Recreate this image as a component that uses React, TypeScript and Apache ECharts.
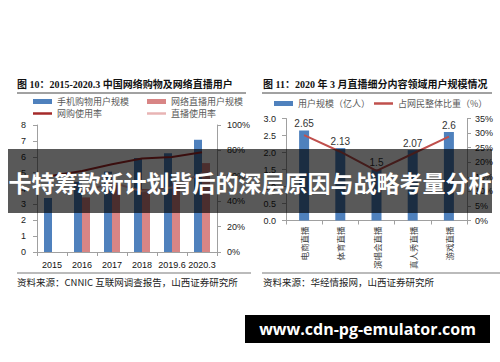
import React, { useEffect, useRef } from 'react';
import * as echarts from 'echarts';

// Left chart data
const leftCats = ['2015', '2016', '2017', '2018', '2019.6', '2020.3'];
const mobileShopUsers = [3.4, 4.41, 5.06, 5.92, 6.22, 7.07];
const liveUsers = [null, 3.44, 4.22, 3.97, 4.33, 5.6];
const shopRate = [60.0, 63.8, 69.1, 73.6, 74.8, 78.6];
const liveRate = [null, 47.1, 54.7, 47.9, 50.7, 62.0];
const leftYTicks = [0, 8, 1];
const leftY2Ticks = [0, 100, 20];

// Right chart data
const rightCats = ['电商直播', '体育直播', '演唱会直播', '真人秀直播', '游戏直播'];
const rightUsers = [2.65, 2.13, 1.5, 2.07, 2.6];
const rightShare = [29.3, 23.6, 17.0, 22.9, 28.8];
const rightYTicks = [0, 3, 0.5];
const rightY2Ticks = [0, 35, 5];

const leftTitle = '图 10：2015-2020.3 中国网络购物及网络直播用户';
const rightTitle = '图 11：2020 年 3 月直播细分内容领域用户规模情况';
const leftSource = '资料来源：CNNIC 互联网调查报告，山西证券研究所';
const rightSource = '资料来源：华经情报网，山西证券研究所';
const overlayTitle = '卡特筹款新计划背后的深层原因与战略考量分析';
const bannerText = 'www.cdn-pg-emulator.com';

const FONT = '"Liberation Sans", "Noto Sans CJK SC", sans-serif';
const CJK = '"Noto Sans CJK SC", sans-serif';
const AXIS_COLOR = '#a0a0a0';
const BLUE = '#4F81BD';
const PINK = '#D88585';
const DARKRED = '#A52A2A';
const LIGHTPINK = '#E8B4B4';
const RED = '#C0504D';

const legendText = { color: '#595959', fontSize: 9, fontFamily: CJK };

function makeLegend(name: string, left: number, top: number, h: number) {
  return {
    data: [{ name }],
    left,
    top,
    padding: 0,
    itemWidth: 19,
    itemHeight: h,
    icon: 'rect',
    textStyle: legendText,
    selectedMode: false,
  };
}

const valueAxisBase = (gridIndex: number, position: 'left' | 'right', t: number[], formatter: any, margin: number) => ({
  type: 'value',
  gridIndex,
  position,
  min: t[0],
  max: t[1],
  interval: t[2],
  axisLine: { show: true, lineStyle: { color: AXIS_COLOR } },
  axisTick: { show: true, length: 4, lineStyle: { color: AXIS_COLOR } },
  splitLine: { show: false },
  axisLabel: { color: '#222', fontSize: 9, fontFamily: FONT, margin, formatter },
});

const option: any = {
  animation: false,
  backgroundColor: '#ffffff',
  textStyle: { fontFamily: FONT },
  grid: [
    { left: 37, right: 283, top: 125, bottom: 110 },
    { left: 286, right: 33, top: 118.5, bottom: 141.5 },
  ],
  legend: [
    makeLegend('手机购物用户规模', 33, 97, 5),
    makeLegend('网络直播用户规模', 147, 97, 5),
    makeLegend('网购使用率', 33, 109, 2.5),
    makeLegend('直播使用率', 147, 109, 2.5),
    makeLegend('用户规模（亿人）', 274, 99, 5),
    makeLegend('占网民整体比重（%）', 374, 99, 2.5),
  ],
  xAxis: [
    {
      type: 'category',
      gridIndex: 0,
      data: leftCats,
      axisLine: { lineStyle: { color: AXIS_COLOR } },
      axisTick: { show: true, length: 4, lineStyle: { color: AXIS_COLOR } },
      axisLabel: { color: '#111', fontSize: 9, margin: 8, interval: 0, fontFamily: FONT },
    },
    {
      type: 'category',
      gridIndex: 1,
      data: rightCats,
      axisLine: { lineStyle: { color: AXIS_COLOR } },
      axisTick: { show: true, length: 4, lineStyle: { color: AXIS_COLOR } },
      axisLabel: { color: '#444', fontSize: 8.5, margin: 6, interval: 0, rotate: 90, fontFamily: CJK },
    },
  ],
  yAxis: [
    valueAxisBase(0, 'left', leftYTicks, '{value}', 11),
    valueAxisBase(0, 'right', leftY2Ticks, '{value}%', 10),
    valueAxisBase(1, 'left', rightYTicks, (v: number) => v.toFixed(1), 10),
    valueAxisBase(1, 'right', rightY2Ticks, '{value}%', 8),
  ],
  series: [
    {
      name: '手机购物用户规模',
      type: 'bar',
      xAxisIndex: 0,
      yAxisIndex: 0,
      data: mobileShopUsers,
      barWidth: 8,
      barGap: '0%',
      itemStyle: { color: BLUE },
    },
    {
      name: '网络直播用户规模',
      type: 'bar',
      xAxisIndex: 0,
      yAxisIndex: 0,
      data: liveUsers,
      barWidth: 8,
      barGap: '0%',
      itemStyle: { color: PINK },
    },
    {
      name: '网购使用率',
      type: 'line',
      xAxisIndex: 0,
      yAxisIndex: 1,
      data: shopRate,
      showSymbol: false,
      symbol: 'none',
      lineStyle: { color: DARKRED, width: 2 },
      itemStyle: { color: DARKRED },
    },
    {
      name: '直播使用率',
      type: 'line',
      xAxisIndex: 0,
      yAxisIndex: 1,
      data: liveRate,
      showSymbol: false,
      symbol: 'none',
      lineStyle: { color: LIGHTPINK, width: 2 },
      itemStyle: { color: LIGHTPINK },
    },
    {
      name: '用户规模（亿人）',
      type: 'bar',
      xAxisIndex: 1,
      yAxisIndex: 2,
      data: rightUsers,
      barWidth: 10,
      itemStyle: { color: BLUE },
      label: { show: true, position: 'top', distance: 2, color: '#333', fontSize: 10, fontFamily: FONT },
    },
    {
      name: '占网民整体比重（%）',
      type: 'line',
      xAxisIndex: 1,
      yAxisIndex: 3,
      data: rightShare,
      showSymbol: false,
      symbol: 'none',
      lineStyle: { color: RED, width: 2 },
      itemStyle: { color: RED },
    },
  ],
  graphic: [
    {
      type: 'text', left: 17, top: 79, z: 50,
      style: { text: leftTitle, fill: '#111', fontSize: 10, fontWeight: 'bold', fontFamily: '"Liberation Serif", "Noto Sans CJK SC", serif' },
    },
    {
      type: 'text', left: 263, top: 79, z: 50,
      style: { text: rightTitle, fill: '#111', fontSize: 10, fontWeight: 'bold', fontFamily: '"Liberation Serif", "Noto Sans CJK SC", serif' },
    },
    { type: 'line', z: 50, shape: { x1: 17, y1: 93, x2: 246, y2: 93 }, style: { stroke: '#444', lineWidth: 1 } },
    { type: 'line', z: 50, shape: { x1: 262, y1: 93, x2: 492, y2: 93 }, style: { stroke: '#444', lineWidth: 1 } },
    { type: 'line', z: 50, shape: { x1: 17, y1: 273, x2: 251, y2: 273 }, style: { stroke: '#bbbbbb', lineWidth: 2 } },
    { type: 'line', z: 50, shape: { x1: 262, y1: 273, x2: 500, y2: 273 }, style: { stroke: '#bbbbbb', lineWidth: 2 } },
    {
      type: 'text', left: 17, top: 277, z: 50,
      style: { text: leftSource, fill: '#222', fontSize: 9.5, fontFamily: CJK },
    },
    {
      type: 'text', left: 263, top: 277, z: 50,
      style: { text: rightSource, fill: '#222', fontSize: 9.5, fontFamily: CJK },
    },
    {
      type: 'rect', z: 100, shape: { x: 8, y: 149, width: 484, height: 64 },
      style: { fill: 'rgba(0,0,0,0.65)' },
    },
    {
      type: 'text', z: 101, x: 250, y: 182,
      style: { text: overlayTitle, fill: '#ffffff', fontSize: 23, fontWeight: 'bold', fontFamily: CJK, textAlign: 'center', textVerticalAlign: 'middle' },
    },
    {
      type: 'rect', z: 100, shape: { x: 245, y: 315, width: 245, height: 28 },
      style: { fill: '#000000' },
    },
    {
      type: 'text', z: 101, x: 367.5, y: 329,
      style: { text: bannerText, fill: '#ffffff', fontSize: 16, fontWeight: 'bold', fontFamily: '"Open Sans", "DejaVu Sans", sans-serif', textAlign: 'center', textVerticalAlign: 'middle' },
    },
  ],
};

export default function App() {
  const ref = useRef<HTMLDivElement>(null);
  useEffect(() => {
    const chart = echarts.init(ref.current!, null, { renderer: 'svg' });
    chart.setOption(option);
    return () => chart.dispose();
  }, []);
  return (
    <div
      ref={ref}
      style={{ position: 'absolute', left: 0, top: 0, width: 500, height: 362 }}
    />
  );
}
